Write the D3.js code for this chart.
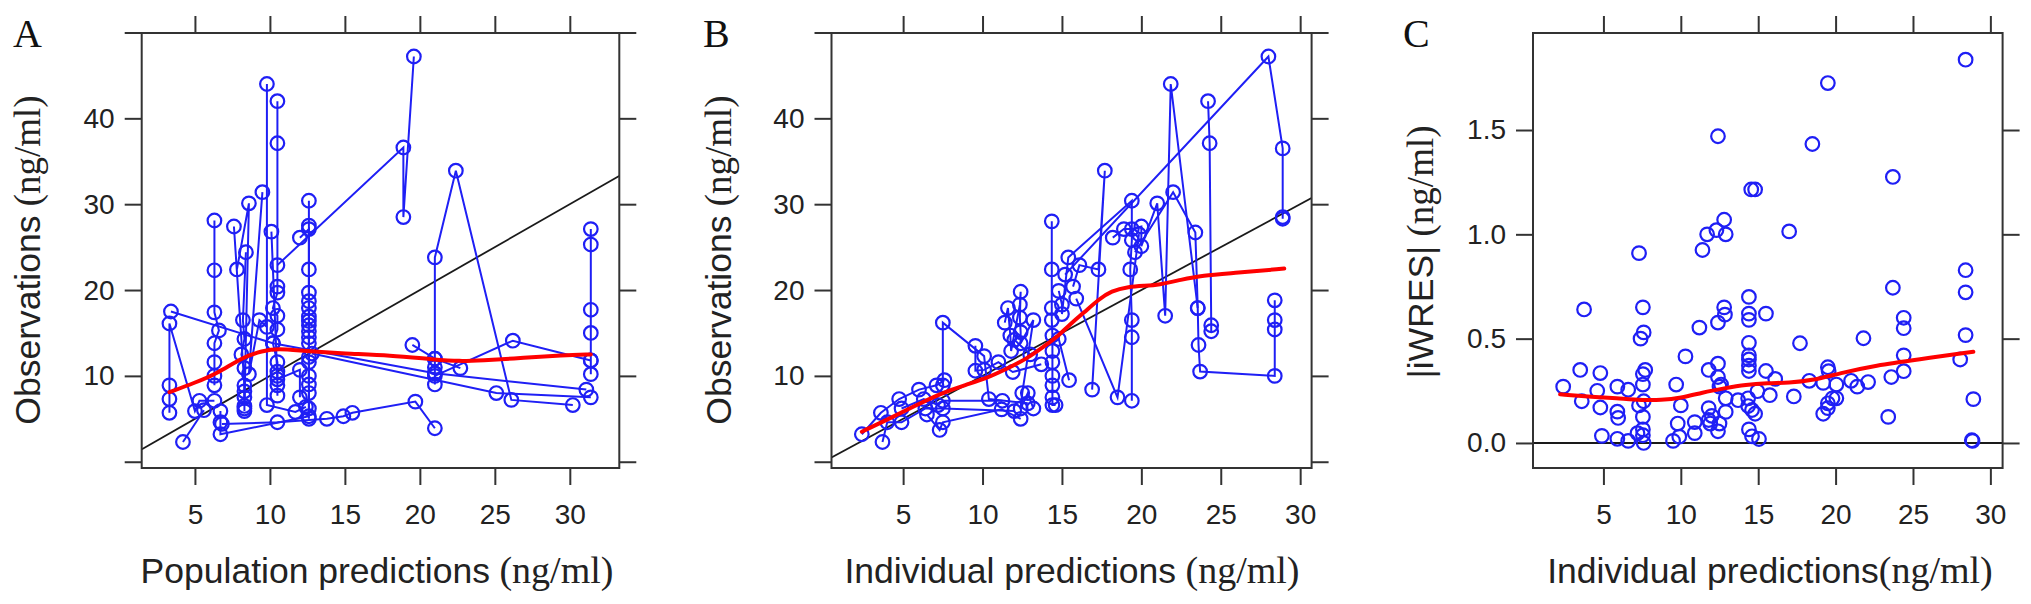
<!DOCTYPE html>
<html>
<head>
<meta charset="utf-8">
<script src="https://cdn.jsdelivr.net/npm/d3@7"></script>
<style>
  body { margin: 0; background: #fff; }
</style>
</head>
<body>
<div id="chart"></div>
<script>
// ---- data ----
// panel A: population predictions vs observations, one array per subject (drawn as connected points)
const popPredSubjects = [
  [[3.4,17.5],[10.2,13.8],[21,10.3],[31.1,8.4]],
  [[3.3,5.7],[3.3,7.3],[3.3,8.9],[3.3,16.1],[5.0,5.9],[5.3,7.1],[6.3,7.1]],
  [[4.2,2.3],[5.6,6.0]],
  [[6.3,28.1],[6.3,22.3],[6.3,17.4],[6.6,15.3],[6.3,13.8],[6.3,11.6],[6.3,10.0],[6.3,8.9]],
  [[6.7,5.9],[6.7,4.6],[6.7,3.2],[12.6,5.3]],
  [[6.8,4.4],[10.5,4.6],[13.8,5.0],[14.9,5.3],[15.5,5.7],[19.7,7.0],[21,3.9]],
  [[7.6,27.4],[8.3,8.9],[8.3,7.5]],
  [[7.8,22.4],[8.6,30.1],[8.3,6.5]],
  [[8.4,24.4],[8.2,16.5],[8.3,14.3],[8.1,12.5],[8.3,10.9],[8.3,8.2],[8.3,6.2],[8.3,5.9]],
  [[9.5,31.4],[8.6,10.2],[9.3,16.5],[9.8,15.7]],
  [[9.8,44.0],[9.8,6.6],[11.7,5.8],[12.4,6.4]],
  [[10.5,42.0],[10.5,37.1],[10.5,20.4],[10.5,19.7],[10.2,17.9],[10.5,17.0],[10.5,15.4],[10.2,13.8],[10.5,11.6],[10.5,10.5],[10.5,10.0],[10.5,8.9],[10.5,7.7]],
  [[10.1,26.8],[10.5,9.6],[12.0,10.7],[12.0,7.5]],
  [[10.5,22.9],[18.9,36.6],[18.9,28.5],[19.6,47.2]],
  [[12.0,26.1],[12.6,27.1],[12.6,22.4],[12.6,19.7],[12.6,18.7],[12.6,17.9],[12.6,16.9],[12.6,15.9],[12.6,15.2],[12.6,13.8],[12.6,11.6],[12.6,10.0],[12.6,8.0],[12.6,6.2]],
  [[12.6,30.4],[12.6,27.5],[12.6,16.4],[12.6,14.5],[12.6,12.2],[12.6,9.0],[12.6,5.0]],
  [[19.5,13.6],[21,12.0],[22.7,10.9]],
  [[21,9.0],[21,10.3],[21,11.0],[21,12.0],[21,23.8],[22.4,33.9],[26.1,7.2],[30.2,6.6]],
  [[12.8,12.6],[25.1,8.0],[31.4,7.5]],
  [[21,10.0],[26.2,14.1],[31.4,11.8]],
  [[31.4,27.1],[31.4,25.3],[31.4,17.7],[31.4,15.0],[31.4,11.8],[31.4,10.2]]
];
const popPredSmooth = [[3.3,8.1],[5,9.2],[6.5,10.3],[8.2,12.2],[9.5,12.9],[10.5,13.2],[12.3,12.9],[15,12.6],[18,12.4],[21,11.9],[22.7,11.7],[24,11.8],[27,12.1],[29.5,12.4],[31.4,12.5]];

// panel B: individual predictions vs observations
const indPredSubjects = [
  [[2.4,3.2],[3.6,5.7],[4.75,7.3],[6.0,8.4],[7.1,8.9],[7.6,9.5]],
  [[3.7,2.3],[4.0,4.6],[4.9,4.6],[6.4,6.2],[7.5,6.2],[12.0,5.9]],
  [[4.9,6.2],[6.3,7.3],[7.2,6.6],[7.5,7.1],[11.25,7.1]],
  [[6.5,5.5],[7.3,3.7],[7.5,4.6],[11.2,6.1],[12.4,5.0]],
  [[7.5,8.9],[7.5,16.2],[10.1,12.3],[10.4,7.3],[12.85,6.8]],
  [[9.55,13.5],[9.55,10.6],[10.1,10.7],[11.0,11.6],[11.9,10.45],[13.7,11.35]],
  [[11.4,16.2],[11.6,17.9],[11.75,14.7],[11.8,12.9],[12.35,18.3],[12.4,19.8],[12.35,16.8],[12.4,15.1],[12.4,13.8],[13.2,16.5],[12.5,8.0],[12.4,6.2],[12.85,8.0],[13.2,6.2]],
  [[12.0,14.2],[13.0,12.5],[14.8,14.3],[15.45,9.5]],
  [[14.36,28.0],[14.36,22.4],[14.36,17.9],[14.36,16.5],[14.4,14.7],[14.4,12.9],[14.4,11.6],[14.4,10.0],[14.4,8.9],[14.4,7.5],[14.4,6.6],[14.6,6.6]],
  [[14.8,19.9],[15.0,18.3],[15.0,17.2],[15.4,23.8],[19.4,30.4],[19.4,25.8],[19.3,22.4],[19.4,16.5],[19.4,14.5],[19.4,7.1]],
  [[15.7,20.4],[16.1,22.9],[17.3,22.4],[17.7,33.9],[16.9,8.4]],
  [[15.9,19.0],[18.5,7.5],[19.85,26.5]],
  [[18.2,26.1],[18.9,27.1],[19.4,27.1],[20.0,27.4],[20.0,25.1],[21.0,30.1],[21.5,17.0],[21.85,44.0],[23.55,17.9],[23.6,13.6],[23.7,10.5],[28.4,10.0],[28.4,15.4],[28.4,16.5],[28.4,18.8]],
  [[15.2,21.8],[28.0,47.2],[28.9,36.5],[28.9,28.5],[28.9,28.3]],
  [[19.6,24.4],[22.0,31.4],[23.4,26.7],[23.55,17.9]],
  [[24.2,42.0],[24.3,37.1],[24.4,15.9],[24.4,15.2]]
];
const indPredSmooth = [[2.4,3.5],[4,4.9],[5.5,6.3],[7.4,8.0],[9,9.0],[10.1,9.6],[11.5,10.8],[12.8,12.0],[14,13.6],[14.8,14.7],[15.5,16.0],[16.4,17.4],[17.3,18.9],[18.1,19.9],[19.2,20.4],[20.2,20.5],[21.1,20.6],[22.5,21.2],[23.8,21.7],[26,22.0],[29,22.5]];

// panel C: individual predictions vs |iWRES|
const iwresX = [2.4,3.5,3.75,3.6,4.8,4.6,4.8,4.9,5.9,5.9,5.95,5.9,6.6,6.6,7.3,7.55,7.4,7.6,7.7,7.55,7.55,7.3,7.6,7.55,7.55,7.55,7.6,7.2,
  9.5,9.7,10.0,9.8,9.9,10.3,10.9,10.9,11.2,11.4,11.7,11.8,11.8,11.8,11.9,12.0,12.3,12.4,12.4,12.4,12.4,12.5,12.4,12.5,12.8,12.9,12.8,12.85,12.6,12.9,12.9,13.7,
  14.4,14.4,14.4,14.4,14.4,14.4,14.4,14.4,14.55,14.8,14.35,14.35,14.6,14.8,14.4,14.6,15.05,14.95,15.5,15.5,15.75,16.1,17.0,17.3,17.7,18.3,18.5,
  19.2,19.2,19.5,19.5,19.55,19.5,19.5,19.8,20.05,20.05,21.0,21.4,21.8,22.1,23.4,23.7,23.7,23.6,24.4,24.4,24.4,24.4,28.05,28.4,28.4,28.4,28.4,28.9,28.8,28.85];
const iwresY = [0.27,0.35,0.64,0.20,0.335,0.25,0.17,0.034,0.27,0.15,0.12,0.02,0.255,0.01,0.91,0.65,0.50,0.53,0.35,0.33,0.28,0.18,0.20,0.125,0.065,0.037,0.0,0.047,
  0.01,0.28,0.18,0.093,0.03,0.415,0.047,0.10,0.553,0.925,1.0,0.35,0.167,0.11,0.093,0.13,1.02,1.47,0.577,0.38,0.316,0.27,0.056,0.093,1.07,1.0,0.65,0.615,0.28,0.214,0.149,0.205,
  0.70,0.62,0.59,0.48,0.42,0.40,0.37,0.345,1.215,1.215,0.214,0.177,0.158,0.14,0.065,0.032,0.019,0.248,0.62,0.345,0.229,0.307,1.014,0.223,0.478,0.298,1.433,
  0.288,0.14,1.725,0.363,0.344,0.19,0.167,0.214,0.28,0.214,0.298,0.27,0.502,0.292,0.125,1.275,0.744,0.316,0.60,0.55,0.42,0.344,0.40,1.837,0.828,0.722,0.517,0.21,0.013,0.01];
const iwresSmooth = [[2.2,0.233],[4,0.222],[5.9,0.214],[7.5,0.205],[8.7,0.205],[10,0.215],[11.4,0.242],[12.8,0.262],[14.2,0.28],[15.6,0.287],[17,0.289],[18.4,0.298],[20.3,0.335],[22.6,0.372],[25.3,0.4],[28.9,0.437]];

// tick values
const xTicks = [5, 10, 15, 20, 25, 30];
const obsTicks = [0, 10, 20, 30, 40, 50];
const obsTickLabels = ["", "10", "20", "30", "40", ""];
const iwresTicks = [0, 0.5, 1.0, 1.5];
const iwresTickLabels = ["0.0", "0.5", "1.0", "1.5"];

// ---- layout ----
const W = 2031, H = 604;
const SANS = "'Liberation Sans', Arial, sans-serif";
const SERIF = "'Liberation Serif', 'Times New Roman', serif";
const TICK = 17;
const BLUE = "#1f1ff5";

const svg = d3.select("#chart").append("svg")
  .attr("width", W).attr("height", H)
  .style("background", "#fff");

const panels = [
  { letter: "A", letterX: 13, left: 141.7, right: 619.3, top: 33, bottom: 468,
    xDom: [1.45, 33.3], yDom: [-0.73, 49.94], yTicks: obsTicks, yLabels: obsTickLabels,
    subjects: popPredSubjects, smooth: popPredSmooth, ref: "identity",
    xTitle: "Population predictions", xUnit: " (ng/ml)", xTitleX: 377,
    yTitle: "Observations", yUnit: " (ng/ml)", yTitleX: 40, yTitleY: 260 },
  { letter: "B", letterX: 703, left: 831.5, right: 1311.6, top: 33, bottom: 468,
    xDom: [0.49, 30.72], yDom: [-0.73, 49.94], yTicks: obsTicks, yLabels: obsTickLabels,
    subjects: indPredSubjects, smooth: indPredSmooth, ref: "identity",
    xTitle: "Individual predictions", xUnit: " (ng/ml)", xTitleX: 1072,
    yTitle: "Observations", yUnit: " (ng/ml)", yTitleX: 731, yTitleY: 260 },
  { letter: "C", letterX: 1403, left: 1533, right: 2002.6, top: 33, bottom: 468,
    xDom: [0.45, 30.79], yDom: [-0.12, 1.965], yTicks: iwresTicks, yLabels: iwresTickLabels,
    points: iwresX.map((v, i) => [v, iwresY[i]]), smooth: iwresSmooth, ref: "zero",
    xTitle: "Individual predictions", xUnit: "(ng/ml)", xTitleX: 1770,
    yTitle: "|iWRES|", yUnit: " (ng/ml)", yTitleX: 1433, yTitleY: 252 }
];

function styleAxis(sel, showText) {
  sel.select(".domain").remove();
  sel.selectAll(".tick line").attr("stroke", "#333").attr("stroke-width", 2);
  sel.selectAll(".tick text")
    .attr("fill", "#222")
    .style("font-family", SANS)
    .style("font-size", "28px");
  if (!showText) sel.selectAll(".tick text").remove();
}

panels.forEach(function(p) {
  const x = d3.scaleLinear().domain(p.xDom).range([p.left, p.right]);
  const y = d3.scaleLinear().domain(p.yDom).range([p.bottom, p.top]);
  const g = svg.append("g");

  const clipId = "clip" + p.letter;
  svg.append("clipPath").attr("id", clipId)
    .append("rect")
    .attr("x", p.left).attr("y", p.top)
    .attr("width", p.right - p.left).attr("height", p.bottom - p.top);

  const plot = g.append("g").attr("clip-path", "url(#" + clipId + ")");

  // reference line
  if (p.ref === "identity") {
    const lo = Math.min(p.xDom[0], p.yDom[0]);
    const hi = Math.max(p.xDom[1], p.yDom[1]);
    plot.append("line")
      .attr("x1", x(lo)).attr("y1", y(lo))
      .attr("x2", x(hi)).attr("y2", y(hi))
      .attr("stroke", "#1a1a1a").attr("stroke-width", 1.8);
  } else {
    plot.append("line")
      .attr("x1", p.left).attr("x2", p.right)
      .attr("y1", y(0)).attr("y2", y(0))
      .attr("stroke", "#1a1a1a").attr("stroke-width", 2);
  }

  const line = d3.line().x(d => x(d[0])).y(d => y(d[1]));

  let pts;
  if (p.subjects) {
    plot.selectAll("path.subj")
      .data(p.subjects)
      .enter().append("path")
      .attr("class", "subj")
      .attr("d", line)
      .attr("fill", "none")
      .attr("stroke", BLUE)
      .attr("stroke-width", 2);
    pts = p.subjects.flat();
  } else {
    pts = p.points;
  }

  plot.selectAll("circle")
    .data(pts)
    .enter().append("circle")
    .attr("cx", d => x(d[0]))
    .attr("cy", d => y(d[1]))
    .attr("r", 6.8)
    .attr("fill", "none")
    .attr("stroke", BLUE)
    .attr("stroke-width", 2.2);

  // loess-like smooth
  plot.append("path")
    .datum(p.smooth)
    .attr("d", d3.line().curve(d3.curveBasis).x(d => x(d[0])).y(d => y(d[1])))
    .attr("fill", "none")
    .attr("stroke", "#ff0000")
    .attr("stroke-width", 4)
    .attr("stroke-linecap", "round");

  // frame
  g.append("rect")
    .attr("x", p.left).attr("y", p.top)
    .attr("width", p.right - p.left).attr("height", p.bottom - p.top)
    .attr("fill", "none").attr("stroke", "#333").attr("stroke-width", 2);

  // axes, ticks outward on all four sides
  g.append("g").attr("transform", "translate(0," + p.bottom + ")")
    .call(d3.axisBottom(x).tickValues(xTicks).tickSize(TICK).tickPadding(19).tickFormat(d3.format("d")))
    .call(s => styleAxis(s, true));
  g.append("g").attr("transform", "translate(0," + p.top + ")")
    .call(d3.axisTop(x).tickValues(xTicks).tickSize(TICK))
    .call(s => styleAxis(s, false));
  g.append("g").attr("transform", "translate(" + p.left + ",0)")
    .call(d3.axisLeft(y).tickValues(p.yTicks).tickSize(TICK).tickPadding(10)
      .tickFormat((d, i) => p.yLabels[i]))
    .call(s => styleAxis(s, true));
  g.append("g").attr("transform", "translate(" + p.right + ",0)")
    .call(d3.axisRight(y).tickValues(p.yTicks).tickSize(TICK))
    .call(s => styleAxis(s, false));

  // panel letter
  g.append("text")
    .attr("x", p.letterX).attr("y", 47)
    .attr("fill", "#111")
    .style("font-family", SERIF).style("font-size", "40px")
    .text(p.letter);

  // x title
  const xt = g.append("text")
    .attr("x", p.xTitleX).attr("y", 583)
    .attr("text-anchor", "middle").attr("fill", "#222");
  xt.append("tspan").style("font-family", SANS).style("font-size", "35.5px").text(p.xTitle);
  xt.append("tspan").style("font-family", SERIF).style("font-size", "38px").text(p.xUnit);

  // y title
  const yt = g.append("text")
    .attr("transform", "translate(" + p.yTitleX + "," + p.yTitleY + ") rotate(-90)")
    .attr("text-anchor", "middle").attr("fill", "#222");
  yt.append("tspan").style("font-family", SANS).style("font-size", "35.5px").text(p.yTitle);
  yt.append("tspan").style("font-family", SERIF).style("font-size", "37px").text(p.yUnit);
});
</script>
</body>
</html>
